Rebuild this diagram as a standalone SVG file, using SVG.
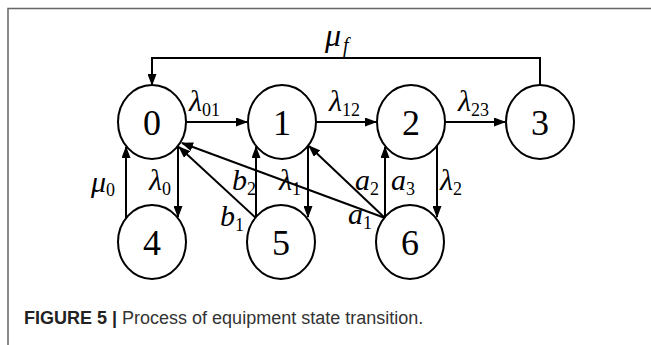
<svg xmlns="http://www.w3.org/2000/svg" width="651" height="345" viewBox="0 0 651 345">
<style>
.node ellipse{fill:#fff;stroke:#000;stroke-width:2}
.node text{font-family:"Liberation Serif",serif;font-size:36px;text-anchor:middle;fill:#000}
.edge{fill:none;stroke:#000;stroke-width:2;marker-end:url(#ah)}
.lbl{font-family:"Liberation Serif",serif;font-size:30px;font-style:italic;fill:#000}
.sub{font-family:"Liberation Serif",serif;font-size:18px;font-style:normal;fill:#000}
.frame{stroke:#666;stroke-width:1.5;fill:none}
</style>
<defs>
<marker id="ah" viewBox="0 0 12 9" refX="11" refY="4.5" markerWidth="12" markerHeight="9" markerUnits="userSpaceOnUse" orient="auto">
<path d="M0,0 L12,4.5 L0,9 z" fill="#000"/>
</marker>
</defs>
<rect width="651" height="345" fill="#fff"/>
<path class="frame" d="M8,345 V8.5 H651"/>

<g id="connectors">
<path class="edge" d="M540,85 V58 H152 V85"/>
<path class="edge" d="M186,122 H247"/>
<path class="edge" d="M316,122 H376"/>
<path class="edge" d="M445,122 H505"/>
<path class="edge" d="M126,218 V147"/>
<path class="edge" d="M178,146 V217"/>
<path class="edge" d="M256,218 V147"/>
<path class="edge" d="M308,146 V217"/>
<path class="edge" d="M385,218 V147"/>
<path class="edge" d="M437,146 V217"/>
<path class="edge" d="M256,218 L179,147"/>
<path class="edge" d="M385,218 L182,143"/>
<path class="edge" d="M385,218 L309,146"/>
</g>

<g id="node0" class="node"><ellipse cx="152" cy="122" rx="34" ry="37"/><text x="152" y="135">0</text></g>
<g id="node1" class="node"><ellipse cx="282" cy="122" rx="34" ry="37"/><text x="282" y="135">1</text></g>
<g id="node2" class="node"><ellipse cx="411" cy="122" rx="34" ry="37"/><text x="411" y="135">2</text></g>
<g id="node3" class="node"><ellipse cx="540" cy="122" rx="34" ry="37"/><text x="540" y="135">3</text></g>
<g id="node4" class="node"><ellipse cx="152" cy="242" rx="34" ry="37"/><text x="152" y="255">4</text></g>
<g id="node5" class="node"><ellipse cx="281" cy="242" rx="34" ry="37"/><text x="281" y="255">5</text></g>
<g id="node6" class="node"><ellipse cx="410" cy="242" rx="34" ry="37"/><text x="410" y="255">6</text></g>

<g id="labels">
<text class="lbl" x="325" y="46" style="font-size:32px">μ<tspan class="sub" style="font-style:italic;font-size:20px" dx="2" dy="6">f</tspan></text>
<text class="lbl" x="189" y="111">λ<tspan class="sub" dy="5">01</tspan></text>
<text class="lbl" x="329" y="111">λ<tspan class="sub" dy="5">12</tspan></text>
<text class="lbl" x="458" y="111">λ<tspan class="sub" dy="5">23</tspan></text>
<text class="lbl" x="91" y="192">μ<tspan class="sub" dy="4">0</tspan></text>
<text class="lbl" x="149" y="190">λ<tspan class="sub" dy="5">0</tspan></text>
<text class="lbl" x="232" y="190">b<tspan class="sub" dy="5">2</tspan></text>
<text class="lbl" x="279" y="190">λ<tspan class="sub" dy="5">1</tspan></text>
<text class="lbl" x="355" y="190">a<tspan class="sub" dy="5">2</tspan></text>
<text class="lbl" x="391" y="190">a<tspan class="sub" dy="5">3</tspan></text>
<text class="lbl" x="440" y="190">λ<tspan class="sub" dy="5">2</tspan></text>
<text class="lbl" x="220" y="226">b<tspan class="sub" dy="5">1</tspan></text>
<text class="lbl" x="348" y="224">a<tspan class="sub" dy="5">1</tspan></text>
</g>

<text x="24" y="324" font-family="'Liberation Sans',Arial,sans-serif" font-size="18" fill="#222"><tspan font-weight="bold">FIGURE 5 | </tspan><tspan fill="#333">Process of equipment state transition.</tspan></text>
</svg>
